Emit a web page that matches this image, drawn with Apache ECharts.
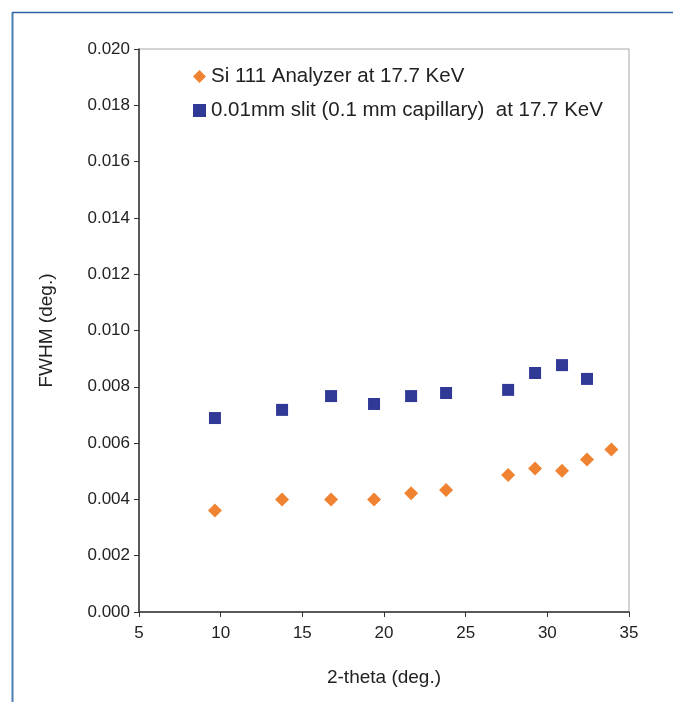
<!DOCTYPE html>
<html><head><meta charset="utf-8">
<script src="https://cdn.jsdelivr.net/npm/echarts@6/dist/echarts.min.js"></script>
<style>html,body{margin:0;padding:0;background:#fff}#c{width:673px;height:702px}</style>
</head><body><div id="c"></div>
<script>
const seriesNames = ['Si 111 Analyzer at 17.7 KeV', '0.01mm slit (0.1 mm capillary)  at 17.7 KeV'];
const siX = [9.65, 13.76, 16.76, 19.39, 21.66, 23.8, 27.6, 29.25, 30.9, 32.43, 33.92];
const siY = [0.00361, 0.00400, 0.00400, 0.00400, 0.00422, 0.00433, 0.00487, 0.00510, 0.00502, 0.00542, 0.00577];
const slitX = [9.65, 13.76, 16.76, 19.39, 21.66, 23.8, 27.6, 29.25, 30.9, 32.43];
const slitY = [0.00689, 0.00718, 0.00767, 0.00739, 0.00767, 0.00778, 0.00789, 0.00849, 0.00877, 0.00828];
const xTitle = '2-theta (deg.)';
const yTitle = 'FWHM (deg.)';

const font = 'Liberation Sans, Arial, sans-serif';
const chart = echarts.init(document.getElementById('c'));
chart.setOption({
  animation: false,
  graphic: [
    {type:'line', shape:{x1:12.5,y1:12.5,x2:12.5,y2:702}, style:{stroke:'#4a7fb5',lineWidth:2}},
    {type:'line', shape:{x1:12,y1:12.5,x2:673,y2:12.5}, style:{stroke:'#2d62a6',lineWidth:1.5}}
  ],
  grid: {left:139, top:49, width:490, height:563, show:true, borderColor:'#a6a6a6', borderWidth:1},
  legend: {
    orient:'vertical', left:188, top:61, itemGap:13, itemWidth:13, itemHeight:13,
    textStyle:{fontFamily:font, fontSize:20.5, color:'#222'},
    data:[{name:seriesNames[0], icon:'diamond'},{name:seriesNames[1], icon:'rect'}]
  },
  xAxis: {
    type:'value', min:5, max:35, interval:5,
    name:xTitle, nameLocation:'middle', nameGap:56,
    nameTextStyle:{fontFamily:font, fontSize:19, color:'#222'},
    axisLine:{lineStyle:{color:'#333', width:1.5}},
    axisTick:{show:true, length:5, lineStyle:{color:'#333'}},
    axisLabel:{fontFamily:font, fontSize:17, color:'#222', margin:13},
    splitLine:{show:false}
  },
  yAxis: {
    type:'value', min:0, max:0.02, interval:0.002,
    name:yTitle, nameLocation:'middle', nameGap:83,
    nameTextStyle:{fontFamily:font, fontSize:19, color:'#222'},
    axisLine:{show:true, lineStyle:{color:'#333', width:1.5}},
    axisTick:{show:true, length:5, lineStyle:{color:'#333'}},
    axisLabel:{fontFamily:font, fontSize:17, color:'#222', margin:9, formatter:v=>v.toFixed(3)},
    splitLine:{show:false}
  },
  series: [
    {name:seriesNames[0], type:'scatter', symbol:'diamond', symbolSize:14,
     itemStyle:{color:'#f08332', opacity:1}, data:siX.map((x,i)=>[x,siY[i]])},
    {name:seriesNames[1], type:'scatter', symbol:'rect', symbolSize:12,
     itemStyle:{color:'#313996', opacity:1}, data:slitX.map((x,i)=>[x,slitY[i]])}
  ]
});
</script></body></html>
